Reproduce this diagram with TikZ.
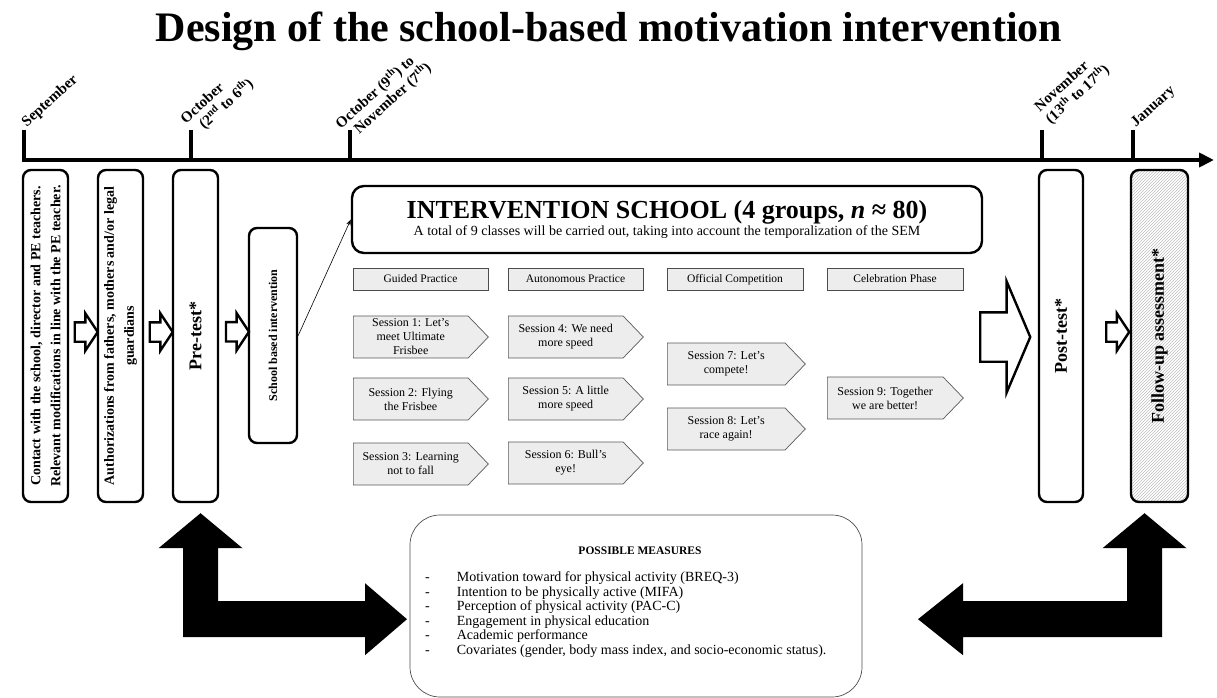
\documentclass[tikz,border=0pt]{standalone}
\usepackage{fontspec}
\setmainfont{Liberation Serif}
\usepackage{tikz}
\usetikzlibrary{arrows.meta,positioning,calc,shapes.arrows,shapes.symbols,patterns}

\begin{document}
\begin{tikzpicture}[x=1pt, y=-1pt, >=Stealth,
    stage/.style={draw, line width=2.4pt, rounded corners=8pt, fill=white,
      rotate=90, align=center, inner sep=1pt,
      font=\bfseries\fontsize{14}{20}\selectfont},
    phase/.style={draw=black!70, line width=0.7pt, fill=black!7,
      minimum width=135, minimum height=22, inner sep=0pt,
      text height=8.5pt, text depth=2.5pt,
      font=\fontsize{11.5}{13}\selectfont},
    session/.style={signal, signal to=east, signal pointer angle=92,
      draw=black!65, line width=0.7pt, fill=black!7, anchor=west,
      minimum width=135, minimum height=42, inner sep=1pt, align=center,
      font=\fontsize{12}{14}\selectfont},
    hollow/.style={single arrow, draw, line width=2.4pt, fill=white,
      inner xsep=0pt, inner ysep=8.5pt, minimum height=23,
      single arrow head extend=9pt, single arrow tip angle=113},
    month/.style={rotate=42, anchor=south west, align=left, inner sep=0pt,
      font=\bfseries\fontsize{15}{16.5}\selectfont},
    axis/.style={line width=4pt},
    measure arrow/.style={fill=black},
  ]

  \useasboundingbox (0,0) rectangle (1217,698);

  % Title
  \node[anchor=base, font=\bfseries\fontsize{42}{46}\selectfont] (title) at (609,42)
    {Design of the school-based motivation intervention};

  % Time line with the month ticks
  \coordinate (sept) at (24,130);
  \coordinate (start) at (24,160);
  \coordinate (end) at (1214,160);
  \draw[axis, -{Triangle[length=15pt, width=14pt]}] (sept) -- (start) -- (end);
  \foreach \x/\n in {191/octa, 350/octb, 1042/nov, 1133/jan} {
    \coordinate (\n) at (\x,130);
    \draw[axis] (\n) -- (\x,160);
  }

  \node[month] (lsept) at ($(sept)+(5,0)$) {September};
  \node[month] (locta) at ($(octa)+(8,9)$) {October\\\hspace*{10pt}(2\textsuperscript{nd} to 6\textsuperscript{th})};
  \node[month] (loctb) at ($(octb)+(4,14)$) {October (9\textsuperscript{th}) to\\\hspace*{10pt}November (7\textsuperscript{th})};
  \node[month] (lnov) at ($(nov)+(11,-3)$) {November\\(13\textsuperscript{th} to 17\textsuperscript{th})};
  \node[month] (ljan) at ($(jan)+(5,0)$) {January};

  % Stages of the study
  \node[stage, minimum width=332, minimum height=45] (contact) at (45.5,336)
    {Contact with the school, director and PE teachers.\\Relevant modifications in line with the PE teacher.};
  \node[stage, minimum width=332, minimum height=45] (auth) at (120.5,336)
    {Authorizations from fathers, mothers and/or legal\\guardians};
  \node[stage, minimum width=332, minimum height=45, font=\bfseries\fontsize{18}{20}\selectfont] (pretest) at (195.5,336) {Pre-test*};
  \node[stage, minimum width=215, minimum height=48, font=\bfseries\fontsize{12}{14}\selectfont] (sbi) at (273,335.5) {School based intervention};
  \node[stage, minimum width=332, minimum height=44, font=\bfseries\fontsize{18}{20}\selectfont] (posttest) at (1061,336) {Post-test*};
  \node[stage, minimum width=332, minimum height=57, pattern=north east lines, pattern color=black!25,
    font=\bfseries\fontsize{18}{20}\selectfont] (followup) at (1159.5,336) {Follow-up assessment*};

  % Hollow arrows between the stages
  \node[hollow] (h1) at ($(contact)!0.5!(auth)+(0,-4)$) {};
  \node[hollow] (h2) at ($(auth)!0.5!(pretest)+(0,-4)$) {};
  \node[hollow] (h3) at ($(pretest)!0.5!(sbi)+(0,-4)$) {};
  \node[hollow] (h4) at (1114.5,332) {};
  \node[hollow, inner ysep=23.5pt, minimum height=50, single arrow head extend=31pt,
    single arrow tip angle=134] (h5) at (1000,337) {};

  % Intervention block
  \node[draw, line width=2.4pt, rounded corners=12pt, minimum width=630, minimum height=67,
    align=center, inner sep=0pt] (intervention) at (667,219.5)
    {{\bfseries\fontsize{26}{28}\selectfont INTERVENTION SCHOOL (4 groups, \textit{n} ≈ 80)}\\[1pt]
     {\fontsize{14}{15}\selectfont A total of 9 classes will be carried out, taking into account the temporalization of the SEM}};
  \draw[-{Stealth[length=6pt]}, line width=0.6pt] (sbi.south) -- (intervention.west);

  \node[phase] (guided) at (420.5,279) {Guided Practice};
  \node[phase] (autonomous) at (575.5,279) {Autonomous Practice};
  \node[phase, minimum width=136] (official) at (735,279) {Official Competition};
  \node[phase, minimum width=136] (celebration) at (895,279) {Celebration Phase};

  \node[session] (s1) at (353,337) {Session 1: Let’s\\meet Ultimate\\Frisbee};
  \node[session] (s2) at (353,399) {Session 2: Flying\\the Frisbee};
  \node[session] (s3) at (353,464) {Session 3: Learning\\not to fall};
  \node[session] (s4) at (508,337) {Session 4: We need\\more speed};
  \node[session] (s5) at (508,399) {Session 5: A little\\more speed};
  \node[session] (s6) at (508,463) {Session 6: Bull’s\\eye!};
  \node[session, minimum width=138] (s7) at (667,364) {Session 7: Let’s\\compete!};
  \node[session, minimum width=138] (s8) at (667,429) {Session 8: Let’s\\race again!};
  \node[session, minimum width=136] (s9) at (827,398) {Session 9: Together\\we are better!};

  % Measures
  \node[draw=black!70, line width=0.7pt, rounded corners=30pt, minimum width=452,
    minimum height=182] (measures) at (636,606) {};
  \node[font=\bfseries\fontsize{11.5}{13}\selectfont] (mtitle) at (640,551) {POSSIBLE MEASURES};
  \node[anchor=north west, inner sep=0pt, font=\fontsize{14}{14.6}\selectfont] (mlist) at (425,571)
    {\begin{tabular}{@{}l@{\hspace{27pt}}l@{}}
      - & Motivation toward for physical activity (BREQ-3)\\
      - & Intention to be physically active (MIFA)\\
      - & Perception of physical activity (PAC-C)\\
      - & Engagement in physical education\\
      - & Academic performance\\
      - & Covariates (gender, body mass index, and socio-economic status).
     \end{tabular}};

  % Arrows linking the assessments and the measures
  \fill[measure arrow] (pretest.west) ++(5,10) -- ++(42,35) -- ++(-24.5,0) -- ++(0,53)
    -- ++(147,0) -- ++(0,-18) -- ++(42,36) -- ++(-42,36) -- ++(0,-18) -- ++(-182,0)
    -- ++(0,-89) -- ++(-24.5,0) -- cycle;
  \fill[measure arrow] (followup.west) ++(-15,10) -- ++(42,35) -- ++(-24.5,0) -- ++(0,89)
    -- ++(-199,0) -- ++(0,18) -- ++(-45,-36) -- ++(45,-36) -- ++(0,18) -- ++(164,0)
    -- ++(0,-53) -- ++(-24.5,0) -- cycle;
\end{tikzpicture}
\end{document}
